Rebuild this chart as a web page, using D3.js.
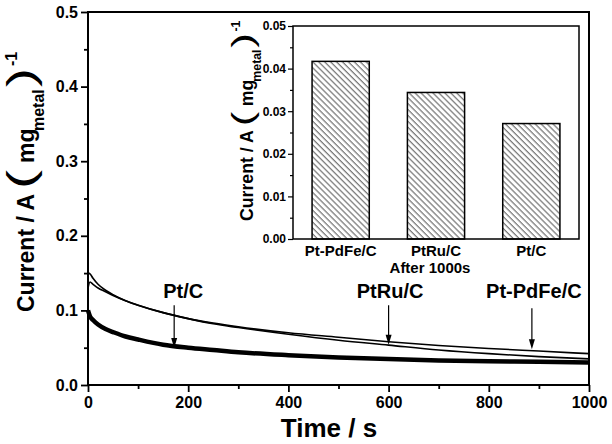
<!DOCTYPE html>
<html>
<head>
<meta charset="utf-8">
<script src="https://cdn.jsdelivr.net/npm/d3@7"></script>
<style>
  body { margin: 0; background: #fff; }
  text { font-family: "Liberation Sans", Arial, sans-serif; fill: #000; }
</style>
</head>
<body>
<script>
// time samples (s)
var times = [0, 4, 10, 20, 35, 50, 75, 100, 150, 200, 250, 300, 400, 500, 600, 700, 800, 900, 1000];

// current (A per mg metal)
var ptPdFe = [0.130, 0.138, 0.135, 0.130, 0.125, 0.120, 0.113, 0.107, 0.097, 0.089, 0.083, 0.078, 0.070, 0.064, 0.058, 0.053, 0.049, 0.0455, 0.042];
var ptRu   = [0.150, 0.149, 0.143, 0.135, 0.127, 0.121, 0.113, 0.107, 0.097, 0.089, 0.082, 0.077, 0.068, 0.060, 0.0535, 0.047, 0.042, 0.038, 0.035];
var ptC    = [0.100, 0.092, 0.087, 0.081, 0.075, 0.071, 0.065, 0.061, 0.054, 0.050, 0.047, 0.044, 0.040, 0.037, 0.035, 0.033, 0.032, 0.031, 0.030];

var xTicks = [0, 200, 400, 600, 800, 1000];
var yTicks = [0.0, 0.1, 0.2, 0.3, 0.4, 0.5];

// arrow labels: text, label time, arrow time, arrow top value, arrow tip value
var notes = [
  {name: "Pt/C",      tLabel: 190, t: 172, top: 0.107, tip: 0.0496},
  {name: "PtRu/C",    tLabel: 603, t: 600, top: 0.107, tip: 0.054},
  {name: "Pt-PdFe/C", tLabel: 890, t: 886, top: 0.103, tip: 0.048}
];
var labelValue = 0.116;

// inset bars
var insetCats = ["Pt-PdFe/C", "PtRu/C", "Pt/C"];
var insetVals = [0.0417, 0.0344, 0.0271];
var insetTicks = [0, 0.01, 0.02, 0.03, 0.04, 0.05];

var w = 612, h = 444;
var svg = d3.select("body").append("svg")
    .attr("width", w)
    .attr("height", h);

// hatch for inset bars
svg.append("defs").append("pattern")
    .attr("id", "hatch")
    .attr("patternUnits", "userSpaceOnUse")
    .attr("width", 4.2)
    .attr("height", 4.2)
    .attr("patternTransform", "rotate(-45)")
  .append("line")
    .attr("x1", 1).attr("y1", 0)
    .attr("x2", 1).attr("y2", 4.2)
    .attr("stroke", "#555")
    .attr("stroke-width", 1);

// ---- main plot ----
var x = d3.scaleLinear().domain([0, 1000]).range([88, 589]);
var y = d3.scaleLinear().domain([0, 0.5]).range([385, 12]);

svg.append("g")
    .attr("transform", "translate(0,385)")
    .call(d3.axisBottom(x).tickValues(xTicks).tickSize(7).tickSizeOuter(0).tickPadding(5).tickFormat(d3.format("d")));
svg.append("g")
    .attr("transform", "translate(0,385)")
    .call(d3.axisBottom(x).tickValues(d3.range(100, 1000, 200)).tickSize(4).tickFormat(""));

svg.append("g")
    .attr("transform", "translate(88,0)")
    .call(d3.axisLeft(y).tickValues(yTicks).tickSize(7).tickSizeOuter(0).tickPadding(3).tickFormat(d3.format(".1f")));
svg.append("g")
    .attr("transform", "translate(88,0)")
    .call(d3.axisLeft(y).tickValues([0.05, 0.15, 0.25, 0.35, 0.45]).tickSize(4).tickFormat(""));

svg.selectAll(".domain").remove();
svg.selectAll(".tick line").attr("stroke", "#000").attr("stroke-width", 1.8);
svg.selectAll(".tick text")
    .style("font-family", "'Liberation Sans', Arial, sans-serif")
    .style("font-weight", "bold")
    .style("font-size", "16px")
    .attr("fill", "#000");

// frame
svg.append("rect")
    .attr("x", x(0)).attr("y", y(0.5))
    .attr("width", x(1000) - x(0))
    .attr("height", y(0) - y(0.5))
    .attr("fill", "none")
    .attr("stroke", "#000")
    .attr("stroke-width", 2);

var line = d3.line()
    .x(function(d){ return x(d[0]); })
    .y(function(d){ return y(d[1]); })
    .curve(d3.curveMonotoneX);

function pairs(vals){ return times.map(function(t, i){ return [t, vals[i]]; }); }

svg.append("path").datum(pairs(ptC))
    .attr("class", "curve ptc")
    .attr("d", line)
    .attr("fill", "none").attr("stroke", "#000").attr("stroke-width", 4.5);
svg.append("path").datum(pairs(ptRu))
    .attr("class", "curve ptru")
    .attr("d", line)
    .attr("fill", "none").attr("stroke", "#000").attr("stroke-width", 1.6);
svg.append("path").datum(pairs(ptPdFe))
    .attr("class", "curve ptpdfe")
    .attr("d", line)
    .attr("fill", "none").attr("stroke", "#000").attr("stroke-width", 1.6);

// annotations
var note = svg.selectAll(".note").data(notes).enter().append("g").attr("class", "note");
note.append("text")
    .attr("x", function(d){ return x(d.tLabel); })
    .attr("y", y(labelValue))
    .attr("text-anchor", "middle")
    .style("font-weight", "bold")
    .style("font-size", "20px")
    .text(function(d){ return d.name; });
note.append("line")
    .attr("x1", function(d){ return x(d.t); })
    .attr("x2", function(d){ return x(d.t); })
    .attr("y1", function(d){ return y(d.top); })
    .attr("y2", function(d){ return y(d.tip) - 8; })
    .attr("stroke", "#000").attr("stroke-width", 1.2);
note.append("path")
    .attr("d", function(d){
      var px = x(d.t), py = y(d.tip);
      return "M" + px + "," + py + "L" + (px - 3) + "," + (py - 10) + "L" + (px + 3) + "," + (py - 10) + "Z";
    })
    .attr("fill", "#000");

// axis titles
svg.append("text")
    .attr("x", 329).attr("y", 437)
    .attr("text-anchor", "middle")
    .style("font-weight", "bold")
    .style("font-size", "26px")
    .text("Time / s");

// rotated "Current / A (mg metal)-1" title, drawn piece by piece
// the brackets are tall and wide, so they get a little stretch
function yTitle(px, py, k){
  var g = svg.append("g").attr("transform", "translate(" + px + "," + py + ") rotate(-90) scale(" + k + ")");
  var parts = [
    {t: "Current / A", x: 0,   y: 0,   size: 23, bold: true,  sx: 1},
    {t: "(",           x: 123, y: 0,   size: 38, bold: false, sx: 1.5},
    {t: "mg",          x: 149, y: 0,   size: 23, bold: true,  sx: 1},
    {t: "metal",       x: 181, y: 10,  size: 16, bold: true,  sx: 1},
    {t: ")",           x: 225, y: 0,   size: 38, bold: false, sx: 1.5},
    {t: "-1",          x: 246, y: -17, size: 16, bold: true,  sx: 1}
  ];
  g.selectAll("text").data(parts).enter().append("text")
      .attr("transform", function(d){ return "translate(" + d.x + "," + d.y + ") scale(" + d.sx + ",1)"; })
      .style("font-size", function(d){ return d.size + "px"; })
      .style("font-weight", function(d){ return d.bold ? "bold" : "normal"; })
      .text(function(d){ return d.t; });
}
yTitle(34, 312, 1);

// ---- inset ----
var ix = d3.scaleBand().domain(insetCats).range([293, 579]).paddingInner(0.4).paddingOuter(0.2);
var iy = d3.scaleLinear().domain([0, 0.05]).range([239, 26]);

var inset = svg.append("g").attr("class", "inset");
inset.append("g")
    .attr("transform", "translate(293,0)")
    .call(d3.axisLeft(iy).tickValues(insetTicks).tickSize(5).tickSizeOuter(0).tickPadding(2).tickFormat(d3.format(".2f")));
inset.append("g")
    .attr("transform", "translate(293,0)")
    .call(d3.axisLeft(iy).tickValues([0.005, 0.015, 0.025, 0.035, 0.045]).tickSize(3).tickFormat(""));
inset.selectAll(".domain").remove();
inset.selectAll(".tick line").attr("stroke", "#000").attr("stroke-width", 1.2);
inset.selectAll(".tick text")
    .style("font-family", "'Liberation Sans', Arial, sans-serif")
    .style("font-weight", "bold")
    .style("font-size", "12px")
    .attr("fill", "#000");

inset.selectAll(".bar").data(insetVals).enter().append("rect")
    .attr("class", "bar")
    .attr("x", function(d, i){ return ix(insetCats[i]); })
    .attr("y", function(d){ return iy(d); })
    .attr("width", ix.bandwidth())
    .attr("height", function(d){ return iy(0) - iy(d); })
    .attr("fill", "url(#hatch)")
    .attr("stroke", "#000")
    .attr("stroke-width", 1.5);

inset.append("rect")
    .attr("x", 293).attr("y", iy(0.05))
    .attr("width", 579 - 293)
    .attr("height", iy(0) - iy(0.05))
    .attr("fill", "none")
    .attr("stroke", "#000")
    .attr("stroke-width", 1.5);

inset.selectAll(".cat").data(insetCats).enter().append("text")
    .attr("class", "cat")
    .attr("x", function(d){ return ix(d) + ix.bandwidth() / 2; })
    .attr("y", 256)
    .attr("text-anchor", "middle")
    .style("font-weight", "bold")
    .style("font-size", "15px")
    .text(function(d){ return d; });

inset.append("text")
    .attr("x", 430).attr("y", 273)
    .attr("text-anchor", "middle")
    .style("font-weight", "bold")
    .style("font-size", "15px")
    .text("After 1000s");

yTitle(253, 221, 0.77);
</script>
</body>
</html>
